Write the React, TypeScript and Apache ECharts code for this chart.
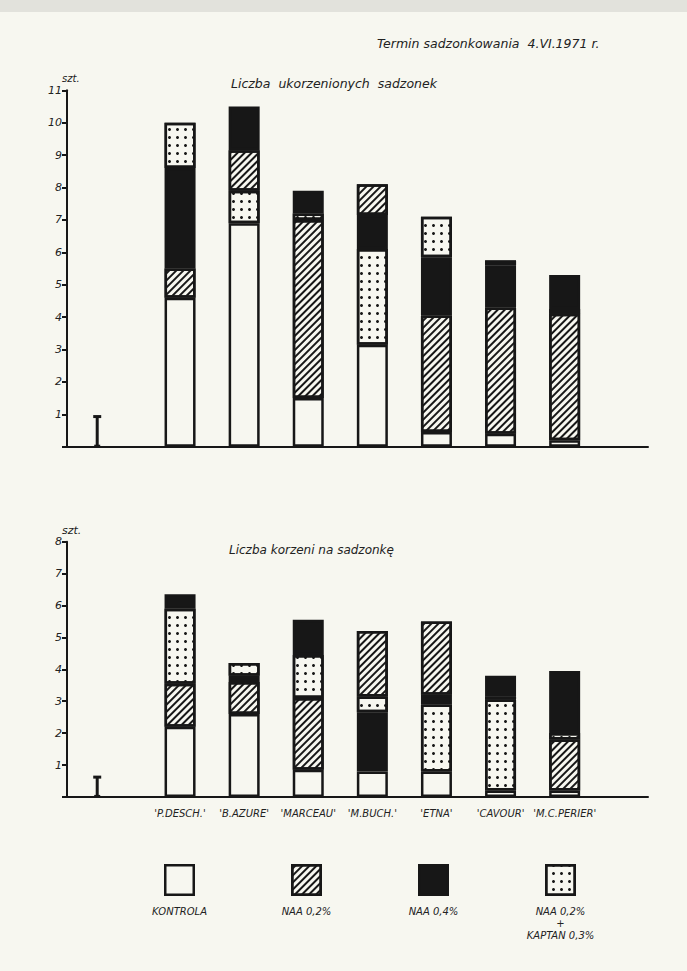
import React, { useEffect, useRef } from "react";
import * as echarts from "echarts";

// ---- data ----
const cultivars = ["'P.DESCH.'", "'B.AZURE'", "'MARCEAU'", "'M.BUCH.'", "'ETNA'", "'CAVOUR'", "'M.C.PERIER'"];
const treatments = ["KONTROLA", "NAA 0,2%", "NAA 0,4%", "NAA 0,2%\n+\nKAPTAN 0,3%"];
const treatmentKeys = ["W", "H", "B", "D"];

// Liczba ukorzenionych sadzonek (szt.)
const rootedKontrola = [4.6, 6.9, 1.5, 3.15, 0.45, 0.4, 0.2];
const rootedNaa02 = [0.9, 1.25, 5.5, 0.95, 3.6, 3.9, 3.9];
const rootedNaa04 = [3.1, 1.35, 0.7, 1.05, 1.8, 1.3, 1.05];
const rootedNaaKaptan = [1.4, 1.0, 0.2, 2.95, 1.25, 0.15, 0.15];
const rootedOrder = [
  ["W", "H", "B", "D"],
  ["W", "D", "H", "B"],
  ["W", "H", "D", "B"],
  ["W", "D", "B", "H"],
  ["W", "H", "B", "D"],
  ["W", "H", "B", "D"],
  ["W", "H", "D", "B"],
];
const rootedLsd = 0.93;
const rootedTicks = [0, 1, 2, 3, 4, 5, 6, 7, 8, 9, 10, 11];

// Liczba korzeni na sadzonkę (szt.)
const rootsKontrola = [2.2, 2.6, 0.85, 0.8, 0.8, 0.2, 0.2];
const rootsNaa02 = [1.35, 1.0, 2.25, 2.05, 2.3, 0.1, 1.6];
const rootsNaa04 = [0.45, 0.2, 1.1, 1.85, 0.3, 0.65, 1.95];
const rootsNaaKaptan = [2.35, 0.4, 1.35, 0.5, 2.1, 2.85, 0.2];
const rootsOrder = [
  ["W", "H", "D", "B"],
  ["W", "H", "B", "D"],
  ["W", "H", "D", "B"],
  ["W", "B", "D", "H"],
  ["W", "D", "B", "H"],
  ["W", "D", "H", "B"],
  ["W", "H", "D", "B"],
];
const rootsLsd = 0.62;
const rootsTicks = [0, 1, 2, 3, 4, 5, 6, 7, 8];

// ---- styles ----
const INK = "#171717";
const PAPER = "#f7f7f0";
const FONT = "DejaVu Sans";

const hatchDecal = {
  symbol: "rect",
  symbolSize: 1,
  color: INK,
  dashArrayX: [1, 0],
  dashArrayY: [1.2, 2.6],
  rotation: -Math.PI / 4,
};
const dotDecal = {
  symbol: "circle",
  symbolSize: 1,
  color: INK,
  dashArrayX: [2.4, 4.6],
  dashArrayY: [2.4, 4.6],
  rotation: 0,
};

function styleFor(t: string): any {
  const base: any = { borderColor: INK, borderWidth: 2.5 };
  if (t === "W") return { ...base, color: PAPER };
  if (t === "B") return { ...base, color: INK };
  if (t === "H") return { ...base, color: PAPER, decal: hatchDecal };
  return { ...base, color: PAPER, decal: dotDecal };
}

function layerSeries(
  map: Record<string, number[]>,
  order: string[][],
  stack: string,
  xAxisIndex: number,
  yAxisIndex: number
) {
  const out: any[] = [];
  for (let L = 0; L < 4; L++) {
    out.push({
      type: "bar",
      name: stack + L,
      stack,
      xAxisIndex,
      yAxisIndex,
      barWidth: 31,
      silent: true,
      data: cultivars.map((_, i) => {
        const t = order[i][L];
        return { value: map[t][i], itemStyle: styleFor(t) };
      }),
    });
  }
  return out;
}

function lsdSeries(value: number, xAxisIndex: number, yAxisIndex: number) {
  return {
    type: "custom",
    xAxisIndex,
    yAxisIndex,
    silent: true,
    data: [[0.052, value]],
    renderItem: (_p: any, api: any) => {
      const b = api.coord([api.value(0), 0]);
      const t = api.coord([api.value(0), api.value(1)]);
      return {
        type: "group",
        children: [
          { type: "line", shape: { x1: b[0], y1: b[1], x2: t[0], y2: t[1] }, style: { stroke: INK, lineWidth: 3 } },
          { type: "line", shape: { x1: t[0] - 4, y1: t[1], x2: t[0] + 4, y2: t[1] }, style: { stroke: INK, lineWidth: 3 } },
          { type: "line", shape: { x1: b[0] - 3, y1: b[1] - 1, x2: b[0] + 3, y2: b[1] - 1 }, style: { stroke: INK, lineWidth: 2 } },
        ],
      };
    },
  };
}

const labelStyle = { fontFamily: FONT, fontStyle: "italic", color: "#222" };

function valueYAxis(gridIndex: number, ticks: number[], show: boolean) {
  return {
    type: "value",
    gridIndex,
    min: ticks[0],
    max: ticks[ticks.length - 1],
    interval: 1,
    show,
    axisLine: { show: true, lineStyle: { color: INK, width: 2 } },
    axisTick: { show: true, length: 5, lineStyle: { color: INK, width: 2 } },
    axisLabel: {
      ...labelStyle,
      fontSize: 11,
      margin: 5,
      formatter: (v: number) => (v === 0 ? "" : String(v)),
    },
    splitLine: { show: false },
  };
}

export default function App() {
  const ref = useRef<HTMLDivElement>(null);

  useEffect(() => {
    if (!ref.current) return;
    const chart = echarts.init(ref.current, undefined, { renderer: "svg" });

    const rootedMap = { W: rootedKontrola, H: rootedNaa02, B: rootedNaa04, D: rootedNaaKaptan };
    const rootsMap = { W: rootsKontrola, H: rootsNaa02, B: rootsNaa04, D: rootsNaaKaptan };

    const fullX = (gridIndex: number) => ({
      type: "value",
      gridIndex,
      min: 0,
      max: 1,
      axisLine: { show: true, onZero: false, lineStyle: { color: INK, width: 2 } },
      axisTick: { show: false },
      axisLabel: { show: false },
      splitLine: { show: false },
    });
    const catX = (gridIndex: number, labels: boolean) => ({
      type: "category",
      gridIndex,
      data: cultivars,
      axisLine: { show: false },
      axisTick: { show: false },
      axisLabel: { show: labels, ...labelStyle, fontSize: 10, margin: 12, interval: 0 },
    });

    const option: any = {
      animation: false,
      backgroundColor: PAPER,
      title: [
        { text: "Termin sadzonkowania  4.VI.1971 r.", left: 372, top: 32, textStyle: { ...labelStyle, fontSize: 12.5, fontWeight: "normal" } },
        { text: "Liczba  ukorzenionych  sadzonek", left: 226, top: 72, textStyle: { ...labelStyle, fontSize: 12.5, fontWeight: "normal" } },
        { text: "szt.", left: 57, top: 68, textStyle: { ...labelStyle, fontSize: 10, fontWeight: "normal" } },
        { text: "Liczba korzeni na sadzonkę", left: 224, top: 539, textStyle: { ...labelStyle, fontSize: 12, fontWeight: "normal" } },
        { text: "szt.", left: 57, top: 520, textStyle: { ...labelStyle, fontSize: 11, fontWeight: "normal" } },
      ],
      graphic: [
        { type: "rect", left: 0, top: 0, shape: { width: 687, height: 12 }, style: { fill: "#e2e2dc" }, silent: true },
      ],
      grid: [
        { left: 67, right: 39, top: 90.3, height: 356.4 },
        { left: 148, right: 90.3, top: 90.3, height: 356.4 },
        { left: 67, right: 39, top: 541.7, height: 255.2 },
        { left: 148, right: 90.3, top: 541.7, height: 255.2 },
        { left: 116, right: 63, top: 864, height: 32 },
      ],
      xAxis: [
        fullX(0),
        catX(1, false),
        fullX(2),
        catX(3, true),
        {
          type: "category",
          gridIndex: 4,
          data: treatments,
          axisLine: { show: false },
          axisTick: { show: false },
          axisLabel: { ...labelStyle, fontSize: 10, margin: 9, interval: 0, lineHeight: 12, color: "#222" },
        },
      ],
      yAxis: [
        valueYAxis(0, rootedTicks, true),
        valueYAxis(1, rootedTicks, false),
        valueYAxis(2, rootsTicks, true),
        valueYAxis(3, rootsTicks, false),
        { type: "value", gridIndex: 4, min: 0, max: 1, show: false },
      ],
      series: [
        ...layerSeries(rootedMap, rootedOrder, "rooted", 1, 1),
        lsdSeries(rootedLsd, 0, 0),
        ...layerSeries(rootsMap, rootsOrder, "roots", 3, 3),
        lsdSeries(rootsLsd, 2, 2),
        {
          type: "bar",
          xAxisIndex: 4,
          yAxisIndex: 4,
          barWidth: 31,
          silent: true,
          data: treatmentKeys.map((t) => ({ value: 1, itemStyle: styleFor(t) })),
        },
      ],
    };

    chart.setOption(option);
    return () => chart.dispose();
  }, []);

  return (
    <div
      ref={ref}
      style={{ position: "absolute", left: 0, top: 0, width: 687, height: 971, background: PAPER }}
    />
  );
}
